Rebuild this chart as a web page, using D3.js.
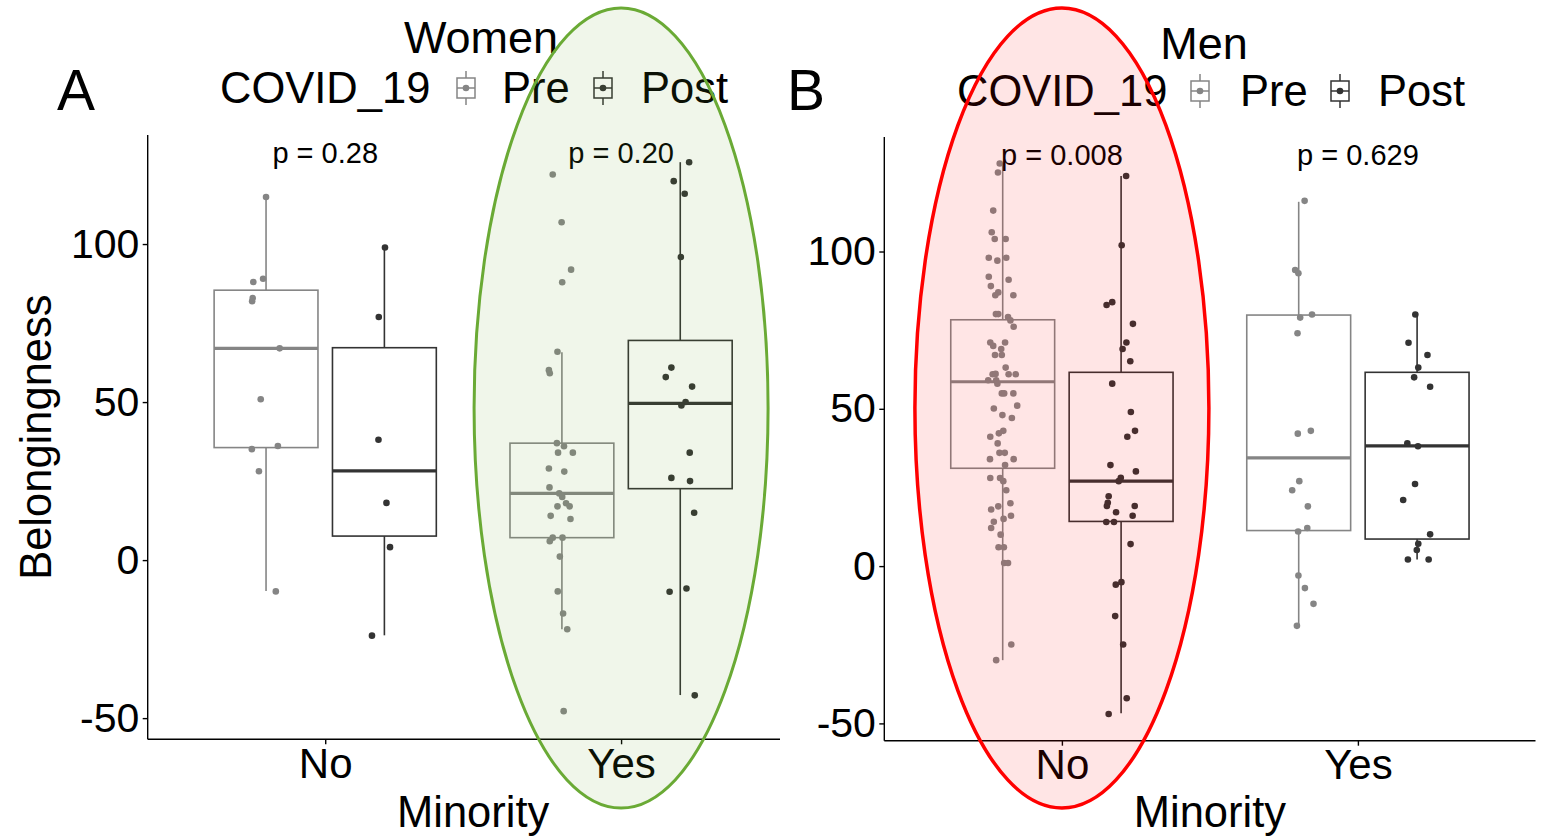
<!DOCTYPE html>
<html>
<head>
<meta charset="utf-8">
<script src="https://cdn.jsdelivr.net/npm/d3@7"></script>
<style>
  body { margin: 0; background: #fff; }
  svg { display: block; }
</style>
</head>
<body>
<div id="chart"></div>
<script>
const minority = ['No', 'Yes']
const periods = ['Pre', 'Post']
const yTicks = [-50, 0, 50, 100]

// scores, jitter = horizontal offset in category units
const womenNoPre = [114.9, 88.0, 89.0, 82.9, 81.9, 67.0, 50.9, 35.1, 36.1, 28.1, -9.9]
const womenNoPreJit = [0, -0.043, -0.010, -0.045, -0.047, 0.046, -0.018, -0.048, 0.040, -0.024, 0.033]
const womenNoPost = [98.9, 76.9, 38.1, 18.1, 4.1, -23.9]
const womenNoPostJit = [0.002, -0.019, -0.020, 0.007, 0.019, -0.042]
const womenYesPre = [122.0, 106.9, 91.9, 87.9, 65.9, 60.1, 59.1, 37.0, 36.0, 34.0, 34.0, 29.0, 28.0, 23.0, 21.1,
  20.0, 18.0, 17.0, 17.0, 14.0, 13.0, 7.1, 6.0, 7.1, 1.1, -9.9, -16.9, -21.9, -47.8]
const womenYesPreJit = [-0.031, -0.001, 0.031, 0.001, -0.015, -0.044, -0.041, -0.017, 0.007, -0.013, 0.037, -0.044,
  0.008, -0.042, -0.009, 0.001, 0.014, -0.015, 0.026, -0.038, 0.029, -0.031, -0.041, 0.002, -0.007, -0.014, 0.004, 0.018, 0.006]
const womenYesPost = [125.9, 119.9, 115.9, 95.9, 60.9, 57.9, 54.9, 50.0, 48.9, 34.0, 26.0, 25.0, 15.0, -10.0, -9.0, -42.8]
const womenYesPostJit = [0.030, -0.022, 0.015, 0.002, -0.030, -0.049, 0.040, 0.018, 0.004, 0.032, -0.030, 0.033,
  0.047, -0.036, 0.021, 0.049]

const menNoPre = [128.0, 125.1, 113.0, 106.1, 104.0, 104.0, 98.0, 97.1, 98.0, 92.0,
  91.0, 89.0, 87.0, 86.1, 86.1, 80.1, 80.1, 79.2, 78.1, 76.1,
  71.1, 70.0, 71.1, 69.0, 67.1, 67.1, 63.1, 61.0, 61.1, 61.0,
  61.0, 59.1, 59.1, 58.0, 54.9, 54.9, 54.9, 50.1, 51.0, 48.0,
  47.1, 43.0, 42.2, 41.1, 39.0, 36.0, 36.0, 34.0, 34.0, 32.1,
  28.0, 28.0, 27.0, 24.1, 20.0, 18.0, 19.0, 16.0, 15.0, 14.1,
  12.1, 10.0, 6.0, 6.0, 1.0, 1.0, -24.9, -29.9]
const menNoPreJit = [-0.010, -0.016, -0.032, -0.037, -0.027, 0.010, -0.047, -0.018, 0.012, -0.047,
  0.020, -0.040, -0.015, -0.025, 0.036, -0.023, -0.015, 0.018, 0.026, 0.037,
  -0.042, -0.032, 0.008, -0.005, -0.026, -0.003, 0.010, -0.034, -0.024, 0.020,
  0.044, -0.049, -0.022, -0.018, -0.003, 0.005, 0.036, -0.030, 0.049, -0.001,
  0.031, 0.002, -0.013, -0.042, -0.017, -0.011, 0.007, -0.043, 0.037, 0.008,
  -0.042, -0.009, 0.002, 0.012, 0.026, -0.039, -0.015, 0.028, 0.003, -0.030,
  -0.039, -0.007, -0.014, 0.004, 0.005, 0.018, 0.029, -0.022]
const menNoPost = [124.0, 102.0, 83.0, 83.9, 77.0, 71.1, 69.0, 65.1, 58.0, 49.0, 43.0, 41.1, 32.1, 30.1, 28.1, 27.0,
  22.2, 20.1, 19.1, 19.1, 17.1, 16.0, 14.0, 14.0, 7.0, -5.1, -5.9, -15.9, -24.9, -42.0, -47.0]
const menNoPostJit = [0.017, 0.002, -0.049, -0.030, 0.040, 0.018, 0.005, 0.031, -0.030, 0.033, 0.047, 0.021, -0.036,
  0.050, -0.001, -0.008, -0.042, -0.045, -0.048, 0.046, -0.017, 0.039, -0.050, -0.024, 0.032, 0.001, -0.018, -0.020,
  0.007, 0.019, -0.042]
const menYesPre = [116.1, 94.1, 93.1, 79.0, 80.0, 74.0, 42.1, 43.0, 27.0, 24.1, 19.0, 12.1, 11.0, -3.0, -7.0, -12.0, -19.0]
const menYesPreJit = [0.020, -0.012, -0.001, 0.005, 0.045, -0.004, -0.003, 0.041, 0.002, -0.022, 0.031, 0.029, -0.002,
  -0.001, 0.021, 0.050, -0.006]
const menYesPost = [80.0, 71.0, 67.1, 63.1, 60.0, 57.0, 39.0, 38.1, 26.1, 21.0, 10.1, 7.1, 5.1, 2.1, 2.1]
const menYesPostJit = [-0.006, -0.029, 0.035, 0.004, -0.010, 0.044, -0.033, 0.003, -0.007, -0.047, 0.044, 0.004,
  -0.001, -0.031, 0.039]

// box stats as drawn: [lower whisker, q1, median, q3, upper whisker]
const womenBoxes = [[-9.8, 35.6, 67.0, 85.4, 114.9], [-23.8, 7.6, 28.2, 67.2, 98.9],
  [-21.9, 7.1, 21.1, 37.0, 65.8], [-42.7, 22.6, 49.6, 69.5, 125.9]]
const menBoxes = [[-29.9, 31.1, 58.6, 78.3, 128.0], [-46.8, 14.2, 27.0, 61.6, 124.0],
  [-19.0, 11.3, 34.4, 79.8, 115.8], [2.1, 8.6, 38.2, 61.6, 80.0]]

const womenP = ['0.28', '0.20']
const menP = ['0.008', '0.629']

const W = 1565
const H = 838
const font = '"Liberation Sans", Arial, Helvetica, sans-serif'
const colors = { Pre: '#858585', Post: '#333333' }
const dodge = 0.2
const boxWidth = 0.351

const panels = [
  {
    tag: 'A', title: 'Women', left: 147.7, right: 798.6, axisEnd: 780, top: 135, bottom: 739.3,
    yDomain: [-56.7, 134.5], titleX: 481, titleY: 53, legendY: 103, legendX: [220, 466, 502, 603, 641],
    pY: 163, pvals: womenP, yTitle: true, boxes: womenBoxes,
    series: [[womenNoPre, womenNoPreJit], [womenNoPost, womenNoPostJit], [womenYesPre, womenYesPreJit], [womenYesPost, womenYesPostJit]],
    ellipse: { cat: 'Yes', cy: 408, rx: 147, ry: 400, color: '#6aaa35', width: 3 }
  },
  {
    tag: 'B', title: 'Men', left: 884.3, right: 1535.5, axisEnd: 1535.5, top: 137, bottom: 740.7,
    yDomain: [-55.5, 136.4], titleX: 1204, titleY: 59, legendY: 106, legendX: [957, 1200, 1240, 1340, 1378],
    pY: 165, pvals: menP, yTitle: false, boxes: menBoxes,
    series: [[menNoPre, menNoPreJit], [menNoPost, menNoPostJit], [menYesPre, menYesPreJit], [menYesPost, menYesPostJit]],
    ellipse: { cat: 'No', cy: 408, rx: 147, ry: 400, color: '#ff0000', width: 3.5 }
  }
]

const svg = d3.select('#chart')
  .append('svg')
  .attr('width', W)
  .attr('height', H)
  .style('font-family', font)

svg.append('rect').attr('width', W).attr('height', H).attr('fill', '#fff')

const legendKey = (g, cx, cy, col) => {
  g.append('line').attr('x1', cx).attr('x2', cx).attr('y1', cy - 17).attr('y2', cy + 17)
    .attr('stroke', col).attr('stroke-width', 1.5)
  g.append('rect').attr('x', cx - 9).attr('y', cy - 10).attr('width', 18).attr('height', 20)
    .attr('fill', '#fff').attr('stroke', col).attr('stroke-width', 1.5)
  g.append('line').attr('x1', cx - 9).attr('x2', cx + 9).attr('y1', cy).attr('y2', cy)
    .attr('stroke', col).attr('stroke-width', 1.5)
  g.append('circle').attr('cx', cx).attr('cy', cy).attr('r', 3.3).attr('fill', col)
}

const ellipses = []

panels.forEach((p) => {
  const x = d3.scalePoint().domain(minority).range([p.left, p.right]).padding(0.6)
  const y = d3.scaleLinear().domain(p.yDomain).range([p.bottom, p.top])
  const step = x.step()
  const g = svg.append('g')

  // axis lines
  g.append('line').attr('x1', p.left).attr('x2', p.left).attr('y1', p.top).attr('y2', p.bottom)
    .attr('stroke', '#000').attr('stroke-width', 1.4)
  g.append('line').attr('x1', p.left).attr('x2', p.axisEnd).attr('y1', p.bottom).attr('y2', p.bottom)
    .attr('stroke', '#000').attr('stroke-width', 1.4)

  const yAxis = g.append('g')
    .attr('transform', `translate(${p.left},0)`)
    .call(d3.axisLeft(y).tickValues(yTicks).tickFormat((d) => String(d))
      .tickSize(5).tickPadding(3.4).tickSizeOuter(0))
  yAxis.select('.domain').remove()
  yAxis.selectAll('text').attr('font-size', 41).attr('fill', '#000').style('font-family', font)
  yAxis.selectAll('line').attr('stroke', '#000').attr('stroke-width', 1.4)

  const xAxis = g.append('g')
    .attr('transform', `translate(0,${p.bottom})`)
    .call(d3.axisBottom(x).tickSize(5).tickPadding(3.7).tickSizeOuter(0))
  xAxis.select('.domain').remove()
  xAxis.selectAll('text').attr('font-size', 42).attr('fill', '#000').style('font-family', font)
  xAxis.selectAll('line').attr('stroke', '#000').attr('stroke-width', 1.4)

  g.append('text')
    .attr('x', (p.left + p.right) / 2).attr('y', 827)
    .attr('text-anchor', 'middle').attr('font-size', 43.5)
    .text('Minority')

  if (p.yTitle) {
    g.append('text')
      .attr('transform', `translate(51,${(p.top + p.bottom) / 2}) rotate(-90)`)
      .attr('text-anchor', 'middle').attr('font-size', 43.5)
      .text('Belongingness')
  }

  // boxes first, then the jittered points
  const groups = []
  minority.forEach((m, mi) => {
    periods.forEach((per, pi) => {
      const k = mi * 2 + pi
      groups.push({
        cx: x(m) + (per === 'Pre' ? -dodge : dodge) * step,
        col: colors[per],
        box: p.boxes[k],
        values: p.series[k][0],
        jit: p.series[k][1]
      })
    })
  })

  const bw = boxWidth * step
  groups.forEach((gr) => {
    const [lo, q1, med, q3, hi] = gr.box
    g.append('line').attr('x1', gr.cx).attr('x2', gr.cx).attr('y1', y(hi)).attr('y2', y(q3))
      .attr('stroke', gr.col).attr('stroke-width', 1.6)
    g.append('line').attr('x1', gr.cx).attr('x2', gr.cx).attr('y1', y(q1)).attr('y2', y(lo))
      .attr('stroke', gr.col).attr('stroke-width', 1.6)
    g.append('rect')
      .attr('x', gr.cx - bw / 2).attr('y', y(q3))
      .attr('width', bw).attr('height', y(q1) - y(q3))
      .attr('fill', '#fff').attr('stroke', gr.col).attr('stroke-width', 1.6)
    g.append('line').attr('x1', gr.cx - bw / 2).attr('x2', gr.cx + bw / 2).attr('y1', y(med)).attr('y2', y(med))
      .attr('stroke', gr.col).attr('stroke-width', 3.2)
  })

  groups.forEach((gr) => {
    g.append('g')
      .selectAll('circle')
      .data(gr.values)
      .join('circle')
      .attr('cx', (d, i) => gr.cx + gr.jit[i] * step)
      .attr('cy', (d) => y(d))
      .attr('r', 3.3)
      .attr('fill', gr.col)
  })

  // p values
  minority.forEach((m, i) => {
    g.append('text')
      .attr('x', x(m)).attr('y', p.pY)
      .attr('text-anchor', 'middle').attr('font-size', 29)
      .text(`p = ${p.pvals[i]}`)
  })

  // tag, title, legend
  svg.append('text').attr('x', p.tag === 'A' ? 57 : 787).attr('y', 110)
    .attr('font-size', 57).text(p.tag)
  svg.append('text').attr('x', p.titleX).attr('y', p.titleY)
    .attr('text-anchor', 'middle').attr('font-size', 45).text(p.title)

  const lg = svg.append('g')
  const [tx, k1, t1, k2, t2] = p.legendX
  lg.append('text').attr('x', tx).attr('y', p.legendY).attr('font-size', 43.5).text('COVID_19')
  legendKey(lg, k1, p.legendY - 15, colors.Pre)
  lg.append('text').attr('x', t1).attr('y', p.legendY).attr('font-size', 43.5).text('Pre')
  legendKey(lg, k2, p.legendY - 15, colors.Post)
  lg.append('text').attr('x', t2).attr('y', p.legendY).attr('font-size', 43.5).text('Post')

  ellipses.push({ cx: x(p.ellipse.cat), ...p.ellipse })
})

// highlight ellipses drawn over everything
svg.append('g')
  .selectAll('ellipse')
  .data(ellipses)
  .join('ellipse')
  .attr('cx', (d) => d.cx)
  .attr('cy', (d) => d.cy)
  .attr('rx', (d) => d.rx)
  .attr('ry', (d) => d.ry)
  .attr('fill', (d) => d.color)
  .attr('fill-opacity', 0.1)
  .attr('stroke', (d) => d.color)
  .attr('stroke-width', (d) => d.width)
</script>
</body>
</html>
